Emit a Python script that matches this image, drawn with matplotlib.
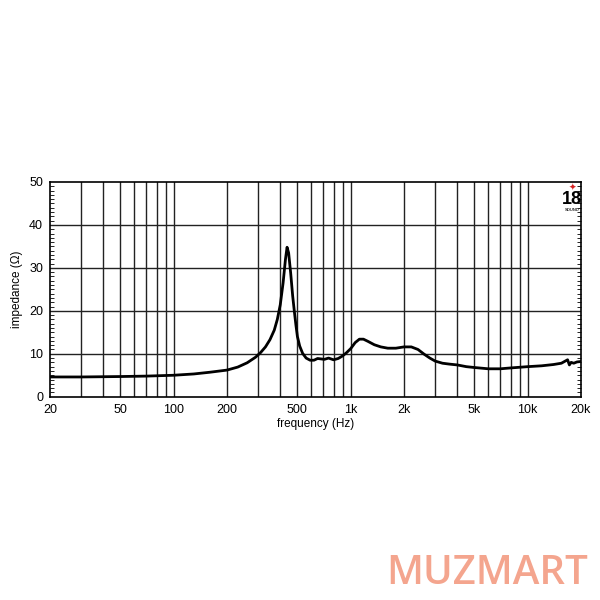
import matplotlib
matplotlib.use("Agg")
import matplotlib.pyplot as plt
from matplotlib.ticker import FixedLocator, MultipleLocator, NullFormatter

plt.rcParams["font.family"] = ["Liberation Sans", "DejaVu Sans"]

# impedance curve (Hz, ohm)
freq = [20, 30, 50, 70, 100, 130, 160, 200, 230, 260, 290, 310, 330, 350,
        370, 385, 400, 415, 428, 437, 446, 458, 470, 480, 490, 500, 515,
        535, 560, 590, 620, 650, 680, 710, 750, 800, 850, 900, 950, 1000,
        1060, 1120, 1180, 1250, 1360, 1480, 1620, 1800, 2000, 2200, 2400,
        2600, 2800, 3000, 3300, 3600, 4000, 4500, 5000, 6000, 7000, 8000,
        10000, 12000, 14000, 15500, 16300, 16800, 17200, 17600, 18200,
        19000, 20000]
impedance = [4.6, 4.6, 4.7, 4.8, 5.0, 5.3, 5.7, 6.2, 6.9, 7.9, 9.2, 10.3,
             11.6, 13.3, 15.5, 18.0, 21.4, 26.5, 32.0, 34.8, 33.5, 28.8,
             23.5, 20.0, 16.8, 14.0, 11.8, 10.1, 9.0, 8.5, 8.5, 8.9, 8.8,
             8.7, 9.0, 8.6, 8.9, 9.5, 10.3, 11.2, 12.6, 13.4, 13.4, 12.9,
             12.1, 11.6, 11.3, 11.3, 11.6, 11.6, 11.0, 9.9, 9.0, 8.3, 7.8,
             7.6, 7.4, 7.0, 6.8, 6.5, 6.5, 6.7, 7.0, 7.2, 7.5, 7.8, 8.3,
             8.6, 7.4, 8.0, 7.8, 8.1, 8.2]

x_ticks = [20, 50, 100, 200, 500, 1000, 2000, 5000, 10000, 20000]
x_labels = ["20", "50", "100", "200", "500", "1k", "2k", "5k", "10k", "20k"]
y_ticks = [0, 10, 20, 30, 40, 50]
# vertical grid stops at 10k in the original sheet
grid_freqs = [m * d for d in (10, 100, 1000) for m in range(1, 10)
              if m * d >= 30] + [10000]

fig = plt.figure(figsize=(6, 6), dpi=100)
ax = fig.add_axes([0.0833, 0.3388, 0.885, 0.3579])

for f in grid_freqs:
    ax.axvline(f, color="#222222", lw=1.0, zorder=1)
for v in y_ticks[1:-1]:
    ax.axhline(v, color="#222222", lw=1.0, zorder=1)

ax.plot(freq, impedance, color="black", lw=2.0, zorder=3)

ax.set_xscale("log")
ax.set_xlim(20, 20000)
ax.set_ylim(0, 50)
ax.xaxis.set_major_locator(FixedLocator(x_ticks))
ax.set_xticklabels(x_labels)
ax.xaxis.set_minor_formatter(NullFormatter())
ax.xaxis.set_minor_locator(FixedLocator([]))
ax.set_yticks(y_ticks)
ax.yaxis.set_minor_locator(MultipleLocator(1))
ax.tick_params(axis="both", which="major", length=0, labelsize=9, pad=5,
               colors="black")
ax.tick_params(axis="y", which="minor", direction="in", length=3,
               width=0.6, left=True, right=True)
for s in ax.spines.values():
    s.set_linewidth(1.2)

ax.set_xlabel("frequency (Hz)", fontsize=8.5, labelpad=2)
ax.set_ylabel("impedance (Ω)", fontsize=8.5, labelpad=4)

# brand mark in the top-right corner
ax.text(0.983, 0.972, "✦", transform=ax.transAxes, color="#d62020",
        fontsize=6.5, ha="center", va="center", family="DejaVu Sans")
ax.text(0.983, 0.918, "18", transform=ax.transAxes, color="black",
        fontsize=13, fontweight="bold", ha="center", va="center")
ax.text(0.983, 0.868, "SOUND", transform=ax.transAxes, color="#333333",
        fontsize=3, fontweight="bold", ha="center", va="center")

fig.text(0.98, 0.043, "MUZMART", color="#f4a58e", fontsize=29,
         fontweight="semibold", ha="right", va="center", family="Open Sans")

fig.savefig("out.png", dpi=100, facecolor="white")
